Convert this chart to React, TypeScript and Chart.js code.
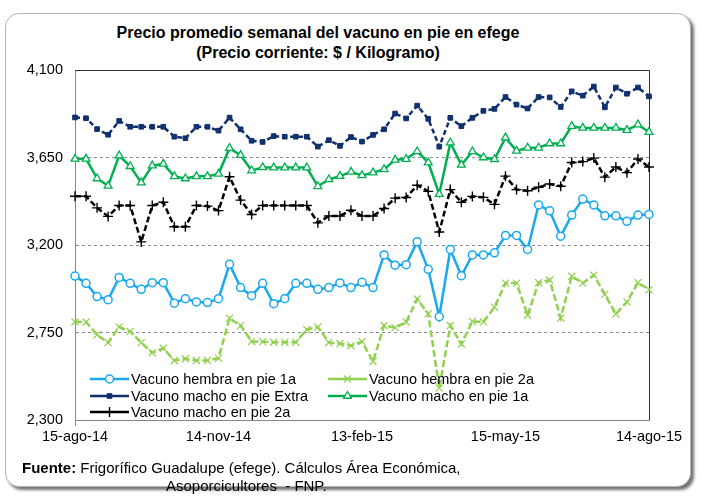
import React, { useEffect, useRef } from 'react';
import { Chart, registerables } from 'chart.js';
import { drawPoint } from 'chart.js/helpers';

Chart.register(...registerables);

const dates = [
  '15-ago-14', '22-ago-14', '29-ago-14', '5-sep-14', '12-sep-14', '19-sep-14', '26-sep-14',
  '3-oct-14', '10-oct-14', '17-oct-14', '24-oct-14', '31-oct-14', '7-nov-14', '14-nov-14',
  '21-nov-14', '28-nov-14', '5-dic-14', '12-dic-14', '19-dic-14', '26-dic-14', '2-ene-15',
  '9-ene-15', '16-ene-15', '23-ene-15', '30-ene-15', '6-feb-15', '13-feb-15', '20-feb-15',
  '27-feb-15', '6-mar-15', '13-mar-15', '20-mar-15', '27-mar-15', '3-abr-15', '10-abr-15',
  '17-abr-15', '24-abr-15', '1-may-15', '8-may-15', '15-may-15', '22-may-15', '29-may-15',
  '5-jun-15', '12-jun-15', '19-jun-15', '26-jun-15', '3-jul-15', '10-jul-15', '17-jul-15',
  '24-jul-15', '31-jul-15', '7-ago-15', '14-ago-15',
];

const hembra1a = [
  3040, 3003, 2935, 2919, 3033, 3003, 2972, 3006, 3006, 2901, 2924, 2907, 2904, 2924,
  3101, 2981, 2939, 3003, 2898, 2924, 3003, 3003, 2972, 2981, 3005, 2981, 3008, 2981,
  3149, 3096, 3099, 3217, 3075, 2831, 3177, 3042, 3149, 3149, 3160, 3249, 3249, 3177,
  3406, 3376, 3245, 3354, 3436, 3406, 3350, 3350, 3322, 3354, 3357,
];

const hembra2a = [
  2804, 2804, 2738, 2698, 2779, 2755, 2698, 2646, 2669, 2606, 2615, 2606, 2606, 2618,
  2823, 2785, 2704, 2702, 2700, 2700, 2700, 2765, 2778, 2699, 2693, 2682, 2703, 2601,
  2786, 2775, 2804, 2922, 2846, 2464, 2786, 2691, 2807, 2805, 2880, 3004, 3004, 2839,
  3006, 3020, 2825, 3039, 3004, 3045, 2946, 2845, 2907, 3006, 2970,
];

const machoExtra = [
  3856, 3852, 3796, 3767, 3838, 3808, 3808, 3808, 3808, 3757, 3749, 3808, 3808, 3788,
  3855, 3795, 3736, 3730, 3760, 3757, 3757, 3757, 3706, 3739, 3710, 3755, 3732, 3766,
  3795, 3876, 3851, 3917, 3849, 3706, 3854, 3811, 3854, 3890, 3900, 3961, 3922, 3902,
  3961, 3959, 3910, 3990, 3968, 4015, 3908, 4010, 3978, 4010, 3964,
];

const macho1a = [
  3643, 3643, 3542, 3504, 3660, 3605, 3521, 3608, 3617, 3553, 3542, 3553, 3553, 3566,
  3698, 3662, 3583, 3599, 3598, 3598, 3598, 3598, 3502, 3537, 3554, 3576, 3558, 3572,
  3589, 3638, 3642, 3681, 3624, 3462, 3726, 3612, 3681, 3650, 3641, 3752, 3684, 3700,
  3700, 3722, 3722, 3811, 3802, 3802, 3802, 3802, 3791, 3819, 3781,
];

const macho2a = [
  3451, 3451, 3391, 3347, 3403, 3403, 3216, 3403, 3420, 3294, 3294, 3403, 3400, 3377,
  3551, 3431, 3357, 3403, 3403, 3403, 3403, 3403, 3314, 3349, 3349, 3379, 3349, 3349,
  3388, 3441, 3444, 3507, 3476, 3267, 3485, 3420, 3450, 3445, 3409, 3554, 3485, 3479,
  3497, 3514, 3502, 3624, 3629, 3647, 3549, 3601, 3572, 3642, 3601,
];

const seriesNames = [
  'Vacuno hembra en pie 1a',
  'Vacuno hembra en pie 2a',
  'Vacuno macho en pie Extra',
  'Vacuno macho en pie 1a',
  'Vacuno macho en pie 2a',
];

const yMin = 2300;
const yMax = 4100;
const yStep = 450;
const labelEvery = 13;

const FONT = "'Liberation Sans Narrow', 'Arial Narrow', 'Liberation Sans', Arial, sans-serif";

// legend slots: [column, row]
const legendSlots: [number, number][] = [
  [0, 0], [1, 0], [0, 1], [1, 1], [0, 2],
];

const legendPlugin = {
  id: 'customLegend',
  afterDraw(chart: any) {
    const { ctx, chartArea } = chart;
    const colX = [chartArea.left + 15, chartArea.left + 253];
    const rowY = [chartArea.bottom - 41, chartArea.bottom - 24, chartArea.bottom - 8];
    ctx.save();
    chart.data.datasets.forEach((ds: any, i: number) => {
      const [c, r] = legendSlots[i];
      const x0 = colX[c];
      const y = rowY[r];
      ctx.save();
      ctx.strokeStyle = ds.borderColor;
      ctx.lineWidth = ds.borderWidth;
      ctx.setLineDash([]);
      ctx.beginPath();
      ctx.moveTo(x0, y);
      ctx.lineTo(x0 + 39, y);
      ctx.stroke();
      ctx.fillStyle = ds.pointBackgroundColor;
      ctx.strokeStyle = ds.borderColor;
      ctx.lineWidth = ds.pointBorderWidth;
      drawPoint(ctx, { pointStyle: ds.pointStyle, radius: ds.pointRadius, borderWidth: ds.pointBorderWidth, rotation: 0 }, x0 + 19.5, y);
      ctx.restore();
      ctx.fillStyle = '#000';
      ctx.font = `14.5px ${FONT}`;
      ctx.textBaseline = 'middle';
      ctx.textAlign = 'left';
      ctx.fillText(ds.label, x0 + 41, y + 1);
    });
    ctx.restore();
  },
};

const framePlugin = {
  id: 'frame',
  beforeDatasetsDraw(chart: any) {
    const { ctx, chartArea } = chart;
    ctx.save();
    ctx.strokeStyle = '#333';
    ctx.lineWidth = 1;
    ctx.beginPath();
    ctx.moveTo(chartArea.left, chartArea.top + 0.5);
    ctx.lineTo(chartArea.right + 0.5, chartArea.top + 0.5);
    ctx.lineTo(chartArea.right + 0.5, chartArea.bottom);
    ctx.stroke();
    ctx.restore();
  },
};

export default function App() {
  const ref = useRef<HTMLCanvasElement>(null);

  useEffect(() => {
    const mk = (
      label: string,
      data: number[],
      color: string,
      pointStyle: string,
      radius: number,
      fill: string,
      width: number,
      dash: number[],
      pbw: number,
    ) => ({
      label,
      data,
      borderColor: color,
      backgroundColor: fill,
      borderWidth: width,
      borderDash: dash,
      pointStyle,
      pointRadius: radius,
      pointHoverRadius: radius,
      pointBackgroundColor: fill,
      pointBorderColor: color,
      pointBorderWidth: pbw,
      tension: 0,
      fill: false,
    });

    const chart = new Chart(ref.current!, {
      type: 'line',
      data: {
        labels: dates,
        datasets: [
          mk(seriesNames[0], hembra1a, '#1AA9EC', 'circle', 4, '#ffffff', 2.5, [], 1.5),
          mk(seriesNames[1], hembra2a, '#92D050', 'crossRot', 5, '#92D050', 2.5, [7, 3], 1.2),
          mk(seriesNames[2], machoExtra, '#11306E', 'rect', 3.3, '#11306E', 2.5, [5, 3], 1),
          mk(seriesNames[3], macho1a, '#00B050', 'triangle', 4.5, '#ffffff', 2.5, [], 1.3),
          mk(seriesNames[4], macho2a, '#000000', 'cross', 5, '#000000', 2.5, [6, 3], 1.4),
        ],
      },
      options: {
        responsive: false,
        animation: false,
        layout: { padding: { left: 15, right: 53, top: 70, bottom: 0 } },
        plugins: {
          legend: { display: false },
          title: { display: false },
          tooltip: { enabled: false },
        },
        scales: {
          x: {
            type: 'category',
            offset: false,
            afterFit: (s: any) => { s.height = 80; },
            grid: {
              drawOnChartArea: false,
              drawTicks: true,
              tickLength: 6,
              tickColor: (c: any) => (c.index % labelEvery === 0 ? '#888' : 'rgba(0,0,0,0)'),
              color: 'rgba(0,0,0,0)',
            },
            border: { display: true, color: '#888', width: 1 },
            ticks: {
              autoSkip: false,
              maxRotation: 0,
              minRotation: 0,
              padding: 2,
              color: '#000',
              font: { family: FONT, size: 14.5 },
              callback: (_v: any, i: number) => (i % labelEvery === 0 ? dates[i] : null),
            },
          },
          y: {
            min: yMin,
            max: yMax,
            afterFit: (s: any) => { s.width = 60; },
            grid: {
              drawTicks: false,
              color: (c: any) =>
                c.tick && (c.tick.value === yMin || c.tick.value === yMax) ? 'rgba(0,0,0,0)' : '#8c8c8c',
              lineWidth: 1,
            },
            border: { display: true, color: '#888', width: 1, dash: [3, 3] },
            ticks: {
              stepSize: yStep,
              padding: 12,
              color: '#000',
              font: { family: FONT, size: 14.5 },
              callback: (v: any) => Number(v).toLocaleString('en-US'),
            },
          },
        },
      },
      plugins: [framePlugin, legendPlugin],
    } as any);

    return () => chart.destroy();
  }, []);

  return (
    <div
      style={{
        position: 'fixed',
        left: 0,
        top: 0,
        width: 702,
        height: 500,
        background: '#ffffff',
        fontFamily: FONT,
        overflow: 'hidden',
      }}
    >
      <div
        style={{
          position: 'absolute',
          left: 5,
          top: 13,
          width: 684,
          height: 472,
          border: '1px solid #b5b5b5',
          borderRadius: 14,
          boxShadow: '3px 3px 3px rgba(0,0,0,0.55)',
          background: '#fff',
        }}
      />
      <div
        style={{
          position: 'absolute',
          left: 98,
          width: 440,
          top: 23,
          textAlign: 'center',
          fontWeight: 'bold',
          fontSize: 16,
          lineHeight: '20px',
          color: '#000',
        }}
      >
        <div>Precio promedio semanal del vacuno en pie en efege</div>
        <div>(Precio corriente: $ / Kilogramo)</div>
      </div>
      <canvas
        ref={ref}
        width={702}
        height={500}
        style={{ position: 'absolute', left: 0, top: 0, width: 702, height: 500 }}
      />
      <div
        style={{
          position: 'absolute',
          left: 22,
          top: 459,
          fontSize: 15,
          lineHeight: '18px',
          color: '#000',
          whiteSpace: 'nowrap',
        }}
      >
        <div>
          <span style={{ fontWeight: 'bold' }}>Fuente:</span> Frigorífico Guadalupe (efege). Cálculos Área Económica,
        </div>
        <div style={{ paddingLeft: 144 }}>Asoporcicultores&nbsp; - FNP.</div>
      </div>
    </div>
  );
}
